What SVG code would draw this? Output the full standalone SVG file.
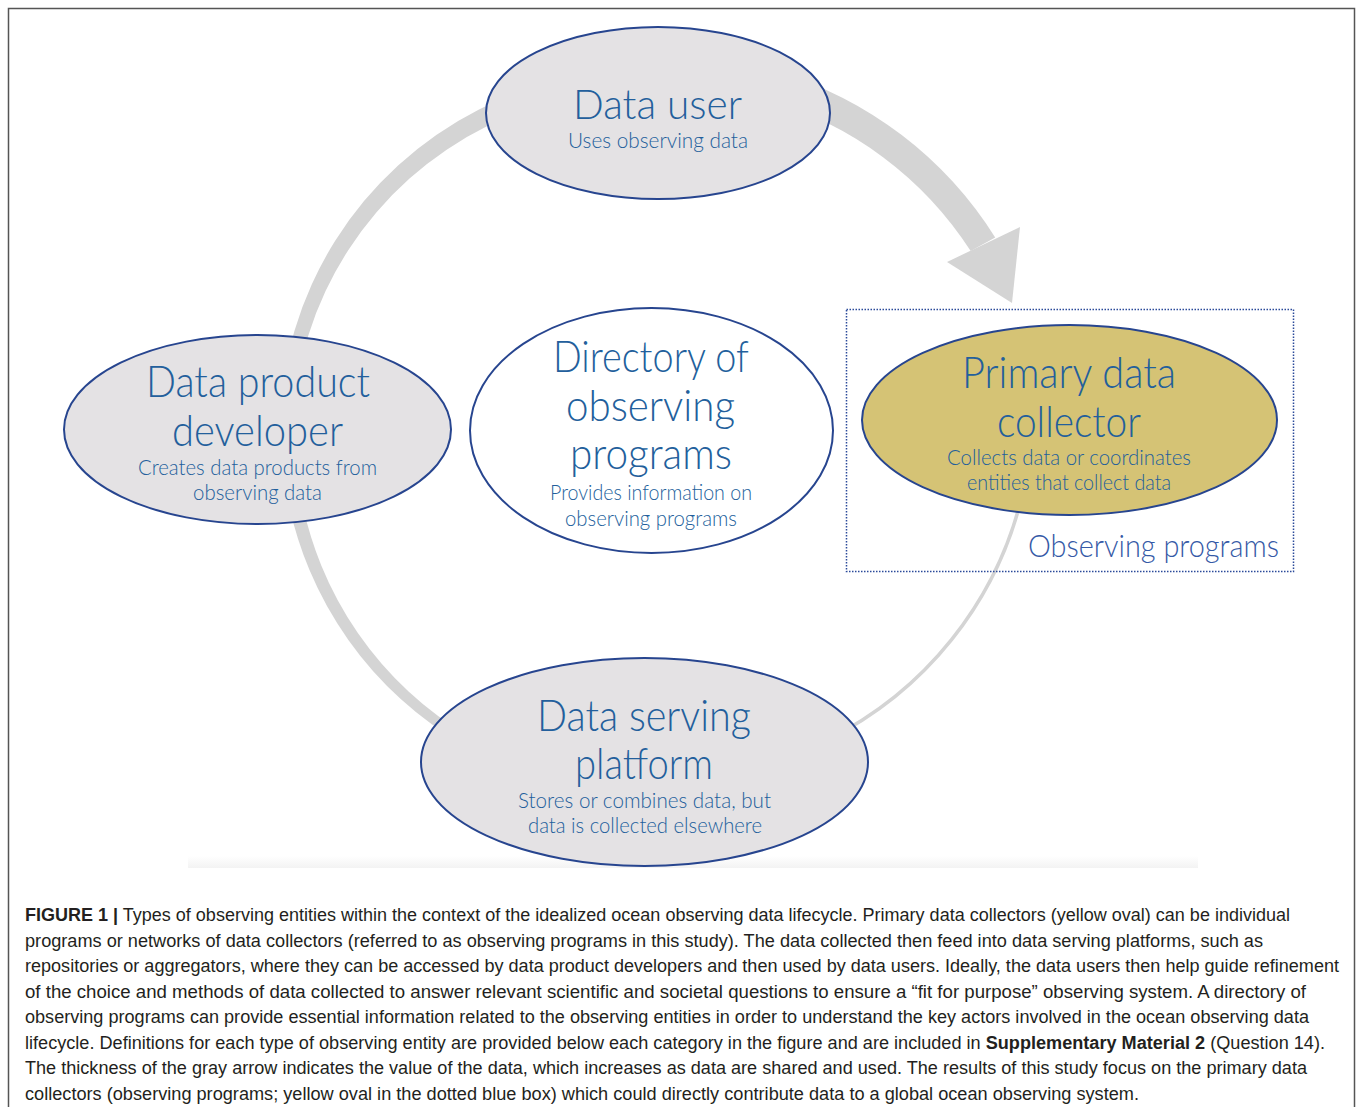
<svg xmlns="http://www.w3.org/2000/svg" width="1358" height="1107" viewBox="0 0 1358 1107">
<defs>
<style>
.band{fill:#d4d4d4;stroke:none}
.thin{fill:none;stroke:#d4d4d4;stroke-width:3.5}
.gray{fill:#e4e2e4;stroke:#27458f;stroke-width:2}
.white{fill:#ffffff;stroke:#27458f;stroke-width:2}
.yellow{fill:#d5c375;stroke:#27458f;stroke-width:2}
.t{font-family:Lato,Roboto,'Liberation Sans',sans-serif;font-weight:300;fill:#235f9c;text-anchor:middle}
.big{font-size:43px}
.small{font-size:21px}
.cap{font-family:'Liberation Sans',Arial,sans-serif;font-size:17.5px;fill:#231f20}
.b{font-weight:bold}
</style>
<linearGradient id="sh" x1="0" y1="0" x2="0" y2="1">
<stop offset="0" stop-color="#ffffff"/>
<stop offset="1" stop-color="#f3f3f3"/>
</linearGradient>
</defs>
<rect x="0" y="0" width="1358" height="1107" fill="#ffffff"/>
<rect x="8.5" y="8.5" width="1346" height="1110" fill="none" stroke="#555555" stroke-width="1.5"/>
<rect x="188" y="856" width="1010" height="12" fill="url(#sh)"/>

<g id="connectors">
<path class="thin" d="M 1022 496 A 369 369 0 0 1 827 740"/>
<path class="band" d="M 465.5 746.1 A 366 366 0 0 1 286.8 493.7 L 300.1 491.3 A 354 354 0 0 0 470.5 737.4 Z"/>
<path class="band" d="M 283.6 378.8 A 365 365 0 0 1 524.4 90.2 L 530.9 108.1 A 350 350 0 0 0 297.4 380.7 Z"/>
<path class="band" d="M 778.3 71.9 A 389 389 0 0 1 995.2 237.5 L 970.7 251.1 A 360 360 0 0 0 768 100.1 Z"/>
<polygon class="band" points="947,262 1020,227 1012,303"/>
</g>

<g id="observing-programs-box">
<rect x="846.5" y="309.5" width="447" height="262" fill="none" stroke="#2b4a9a" stroke-width="1.5" stroke-dasharray="1.5 1.5"/>
<text class="t" x="1153.5" y="557" font-size="32" textLength="251" lengthAdjust="spacingAndGlyphs" style="fill:#3559a6">Observing programs</text>
</g>

<g id="data-user">
<ellipse class="gray" cx="658" cy="113" rx="172" ry="86"/>
<text class="t" x="657.5" y="119" font-size="41" textLength="169" lengthAdjust="spacingAndGlyphs">Data user</text>
<text class="t small" x="658" y="148" textLength="180" lengthAdjust="spacingAndGlyphs">Uses observing data</text>
</g>

<g id="data-product-developer">
<ellipse class="gray" cx="257.5" cy="429.5" rx="193.5" ry="94.5"/>
<text class="t big" x="258" y="397" textLength="224" lengthAdjust="spacingAndGlyphs">Data product</text>
<text class="t big" x="257.5" y="446" textLength="171" lengthAdjust="spacingAndGlyphs">developer</text>
<text class="t small" x="257.5" y="475" textLength="239" lengthAdjust="spacingAndGlyphs">Creates data products from</text>
<text class="t small" x="257.5" y="500" textLength="129" lengthAdjust="spacingAndGlyphs">observing data</text>
</g>

<g id="directory">
<ellipse class="white" cx="651.5" cy="430.5" rx="181.5" ry="122.5"/>
<text class="t big" x="651" y="372" textLength="196" lengthAdjust="spacingAndGlyphs">Directory of</text>
<text class="t big" x="650.5" y="421" textLength="169" lengthAdjust="spacingAndGlyphs">observing</text>
<text class="t big" x="651" y="469" textLength="162" lengthAdjust="spacingAndGlyphs">programs</text>
<text class="t small" x="651" y="500" textLength="202" lengthAdjust="spacingAndGlyphs">Provides information on</text>
<text class="t small" x="651" y="526" textLength="172" lengthAdjust="spacingAndGlyphs">observing programs</text>
</g>

<g id="primary-data-collector">
<ellipse class="yellow" cx="1069.5" cy="420" rx="207.5" ry="95"/>
<text class="t big" x="1069" y="388" textLength="214" lengthAdjust="spacingAndGlyphs">Primary data</text>
<text class="t big" x="1069" y="437" textLength="144" lengthAdjust="spacingAndGlyphs">collector</text>
<text class="t small" x="1069" y="465" textLength="244" lengthAdjust="spacingAndGlyphs">Collects data or coordinates</text>
<text class="t small" x="1069" y="490" textLength="204" lengthAdjust="spacingAndGlyphs">entities that collect data</text>
</g>

<g id="data-serving-platform">
<ellipse class="gray" cx="644.5" cy="762" rx="223.5" ry="104"/>
<text class="t big" x="644" y="731" textLength="214" lengthAdjust="spacingAndGlyphs">Data serving</text>
<text class="t big" x="644" y="779" textLength="138" lengthAdjust="spacingAndGlyphs">platform</text>
<text class="t small" x="644.5" y="808" textLength="253" lengthAdjust="spacingAndGlyphs">Stores or combines data, but</text>
<text class="t small" x="645" y="833" textLength="234" lengthAdjust="spacingAndGlyphs">data is collected elsewhere</text>
</g>

<g id="caption">
<text class="cap" x="25" y="921" textLength="1265" lengthAdjust="spacingAndGlyphs"><tspan class="b">FIGURE 1 |</tspan> Types of observing entities within the context of the idealized ocean observing data lifecycle. Primary data collectors (yellow oval) can be individual</text>
<text class="cap" x="25" y="946.5" textLength="1238" lengthAdjust="spacingAndGlyphs">programs or networks of data collectors (referred to as observing programs in this study). The data collected then feed into data serving platforms, such as</text>
<text class="cap" x="25" y="972" textLength="1314" lengthAdjust="spacingAndGlyphs">repositories or aggregators, where they can be accessed by data product developers and then used by data users. Ideally, the data users then help guide refinement</text>
<text class="cap" x="25" y="997.5" textLength="1281" lengthAdjust="spacingAndGlyphs">of the choice and methods of data collected to answer relevant scientific and societal questions to ensure a “fit for purpose” observing system. A directory of</text>
<text class="cap" x="25" y="1023" textLength="1284" lengthAdjust="spacingAndGlyphs">observing programs can provide essential information related to the observing entities in order to understand the key actors involved in the ocean observing data</text>
<text class="cap" x="25" y="1048.5" textLength="1300" lengthAdjust="spacingAndGlyphs">lifecycle. Definitions for each type of observing entity are provided below each category in the figure and are included in <tspan class="b">Supplementary Material 2</tspan> (Question 14).</text>
<text class="cap" x="25" y="1074" textLength="1282" lengthAdjust="spacingAndGlyphs">The thickness of the gray arrow indicates the value of the data, which increases as data are shared and used. The results of this study focus on the primary data</text>
<text class="cap" x="25" y="1099.5" textLength="1114" lengthAdjust="spacingAndGlyphs">collectors (observing programs; yellow oval in the dotted blue box) which could directly contribute data to a global ocean observing system.</text>
</g>
</svg>
